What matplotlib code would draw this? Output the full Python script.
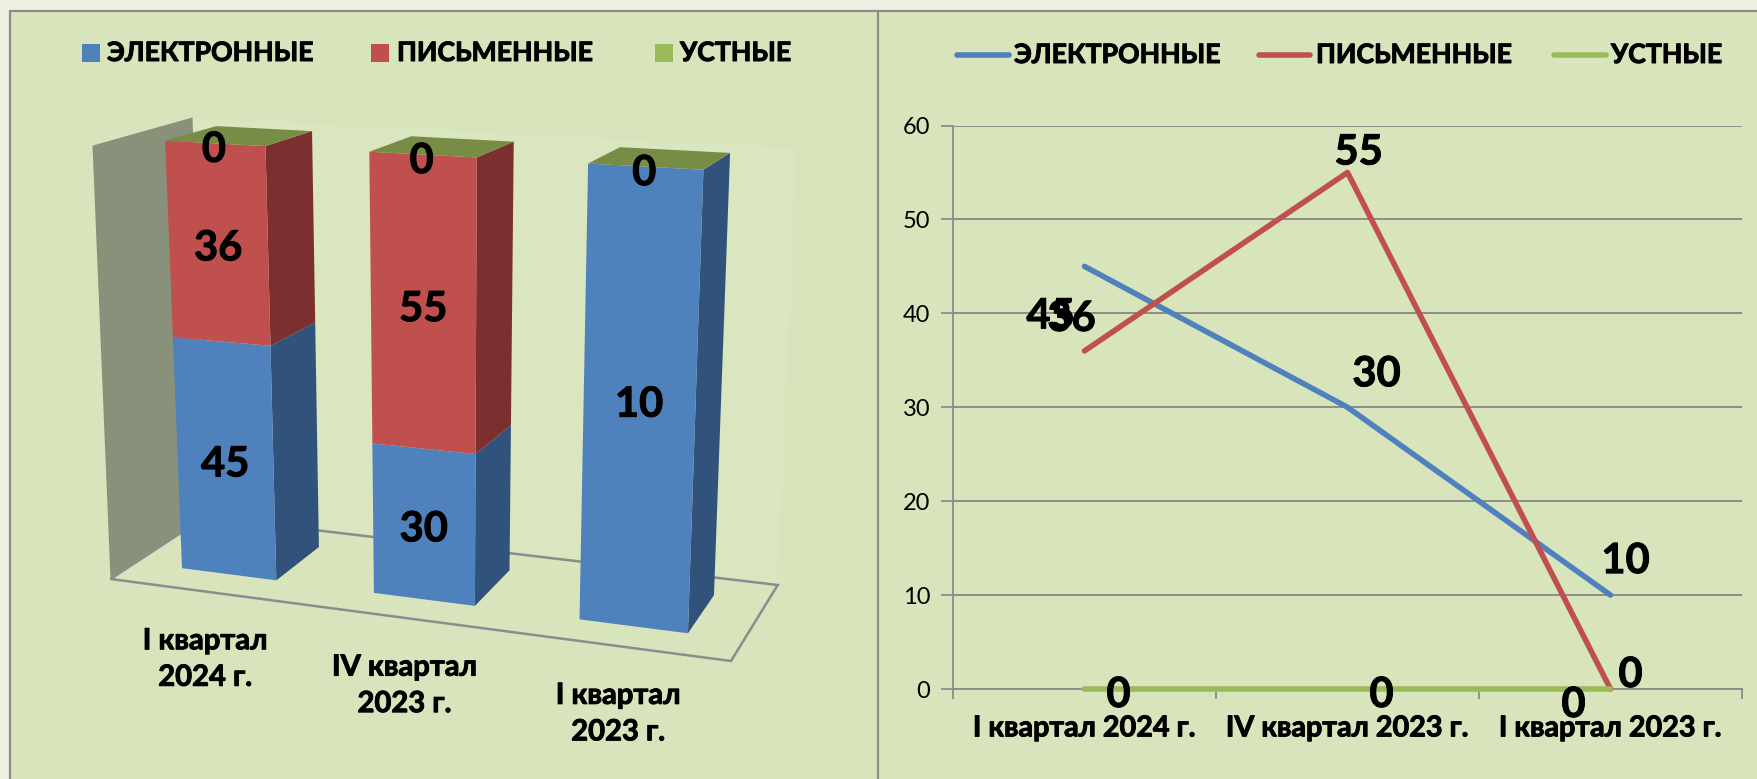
import numpy as np
import matplotlib
matplotlib.use('Agg')
import matplotlib.pyplot as plt
import matplotlib.patheffects as pe
from matplotlib.patches import Polygon, Rectangle

plt.rcParams['font.family'] = ['Lato', 'Noto Sans', 'DejaVu Sans']

# data
categories = ['I квартал 2024 г.', 'IV квартал 2023 г.', 'I квартал 2023 г.']
categories_wrapped = ['I квартал\n2024 г.', 'IV квартал\n2023 г.', 'I квартал\n2023 г.']
series_names = ['ЭЛЕКТРОННЫЕ', 'ПИСЬМЕННЫЕ', 'УСТНЫЕ']
electronic = [45, 30, 10]
written = [36, 55, 0]
oral = [0, 0, 0]
y_ticks = [0, 10, 20, 30, 40, 50, 60]

# colours
bg_outer = '#EDF0E0'
bg_panel = '#D8E4BC'
grey = '#8C8C8C'
front_cols = ['#4F81BD', '#C0504D', '#9BBB59']
side_cols = ['#31527A', '#7B2F2F', '#5F7530']
top_col = '#778C44'
wall_col = '#8A917A'

# bold in the reference is heavier than Lato Bold, thicken it a little
heavy = [pe.withStroke(linewidth=0.7, foreground='black')]

W, H = 1758, 779
fig = plt.figure(figsize=(W/100, H/100), dpi=100, facecolor=bg_outer)

# full figure axes in pixel units, for the panels and the fake 3D chart
bg = fig.add_axes([0, 0, 1, 1])
bg.set_xlim(0, W)
bg.set_ylim(H, 0)
bg.axis('off')
bg.add_patch(Rectangle((10, 11), W, H, fc=bg_panel, ec=grey, lw=1.6))
bg.plot([878, 878], [11, H], color=grey, lw=1.6)

# corners of the 3D box as it is seen on the page
FBL = np.array([110.5, 579.0])
FBR = np.array([731.0, 661.0])
BBR = np.array([777.7, 585.0])
BBL = np.array([205.0, 517.0])
FTL = np.array([88.0, 145.6])
FTR = np.array([750.0, 182.0])
BTR = np.array([797.0, 148.5])
BTL = np.array([192.5, 117.5])
K_X = 1.11    # perspective along the categories
K_Y = 1.065   # perspective along the value axis
D_FRONT = 0.27
D_BACK = 0.78


def project(t, d, s):
    # t across categories, d depth, s share of the stack (all 0..1)
    u = t/(K_X - (K_X - 1)*t)
    v = s/(K_Y - (K_Y - 1)*s)
    bottom = (1-d)*((1-u)*FBL + u*FBR) + d*((1-u)*BBL + u*BBR)
    top = (1-d)*((1-u)*FTL + u*FTR) + d*((1-u)*BTL + u*BTR)
    return (1-v)*bottom + v*top


# walls and floor
bg.add_patch(Polygon([BTL, BTR, BBR, BBL], fc='#DAE6BF', ec='none'))
bg.add_patch(Polygon([FTL + [4.5, 0], BTL, BBL, FBL], fc=wall_col, ec='none'))
bg.add_patch(Polygon([FBL, FBR, BBR, BBL], fc='none', ec=grey, lw=1.8))

# stacked 100% bars
stacks = np.array([electronic, written, oral], dtype=float)
totals = stacks.sum(axis=0)
bar_w = 0.5/3
for i in range(len(categories)):
    t0 = (i + 0.25)/3
    t1 = t0 + bar_w
    tc = (t0 + t1)/2
    base = 0.0
    for j in range(len(series_names)):
        share = stacks[j, i]/totals[i]
        s0, s1 = base, base + share
        if share > 0:
            bg.add_patch(Polygon([project(t1, D_FRONT, s0), project(t1, D_BACK, s0),
                                  project(t1, D_BACK, s1), project(t1, D_FRONT, s1)],
                                 fc=side_cols[j], ec='none'))
            bg.add_patch(Polygon([project(t0, D_FRONT, s0), project(t1, D_FRONT, s0),
                                  project(t1, D_FRONT, s1), project(t0, D_FRONT, s1)],
                                 fc=front_cols[j], ec='none'))
            px, py = project(tc, D_FRONT, (s0 + s1)/2)
            # the full height bar has its label a bit higher in the reference
            bg.text(px, py + (1 if share == 1 else 4.5), str(int(stacks[j, i])), ha='center', va='center',
                    fontsize=30, fontweight='bold', color='black', zorder=5, path_effects=heavy)
        base = s1
    bg.add_patch(Polygon([project(t0, D_FRONT, 1), project(t1, D_FRONT, 1),
                          project(t1, D_BACK, 1), project(t0, D_BACK, 1)],
                         fc=top_col, ec='none'))
    # the zero of the empty top series
    px, py = project(tc, D_FRONT, 1)
    bg.text(px - 1, py + 6.5, str(oral[i]), ha='center', va='center',
            fontsize=30, fontweight='bold', color='black', zorder=5, path_effects=heavy)
    # category label under the floor
    px, py = project(tc, 0, 0)
    bg.text(px, py + 68, categories_wrapped[i], ha='center', va='center',
            fontsize=21, fontweight='bold', linespacing=1.5, color='black', path_effects=heavy)

# left legend
sq_x = [82, 371, 655]
txt_x = [107, 397, 680]
for j in range(3):
    bg.add_patch(Rectangle((sq_x[j], 44), 18, 18, fc=front_cols[j], ec='none'))
    bg.text(txt_x[j], 53, series_names[j], ha='left', va='center',
            fontsize=19.2, fontweight='bold', color='black', path_effects=heavy)

# right legend
ln_x = [(957, 1009), (1259, 1310), (1554, 1606)]
txt_x2 = [1014, 1316, 1611]
for j in range(3):
    bg.plot(ln_x[j], [54.5, 54.5], color=front_cols[j], lw=4, solid_capstyle='round')
    bg.text(txt_x2[j], 55, series_names[j], ha='left', va='center',
            fontsize=19.2, fontweight='bold', color='black', path_effects=heavy)

# right chart
ax = fig.add_axes([953/W, 1 - 689/H, (1742 - 953)/W, (689 - 125.5)/H])
ax.patch.set_alpha(0)
x = np.arange(len(categories)) + 0.5
ax.set_xlim(0, 3)
ax.set_ylim(0, 60)
ax.set_yticks(y_ticks)
ax.set_xticks([0, 1, 2, 3])
ax.set_xticklabels([])
ax.set_xticks(x, minor=True)
ax.set_xticklabels(categories, minor=True, fontsize=20.7, fontweight='bold', path_effects=heavy)
ax.tick_params(axis='x', which='major', length=7, width=1.3, color=grey)
ax.tick_params(axis='x', which='minor', length=0, pad=19)
ax.tick_params(axis='y', length=9, width=1.3, color=grey, labelsize=17, pad=7.5)
ax.grid(axis='y', color=grey, lw=1.4)
ax.set_axisbelow(True)
for side in ['top', 'right']:
    ax.spines[side].set_visible(False)
for side in ['left', 'bottom']:
    ax.spines[side].set_color(grey)
    ax.spines[side].set_linewidth(1.3)

label_offsets = [[(-34, -50), (29, 33), (15, 34)],
                 [(-13, 32), (11, 20), (20, 14)],
                 [(34, -6), (34, -6), (-37, -16)]]
for j, vals in enumerate([electronic, written, oral]):
    ax.plot(x, vals, color=front_cols[j], lw=4, solid_capstyle='round', clip_on=False, zorder=3)
    for k in range(len(vals)):
        ax.annotate(str(vals[k]), (x[k], vals[k]), xytext=label_offsets[j][k],
                    textcoords='offset pixels', ha='center', va='center',
                    fontsize=30, fontweight='bold', color='black', zorder=5,
                    annotation_clip=False, path_effects=heavy)

fig.savefig('out.png', dpi=100, facecolor=bg_outer)
